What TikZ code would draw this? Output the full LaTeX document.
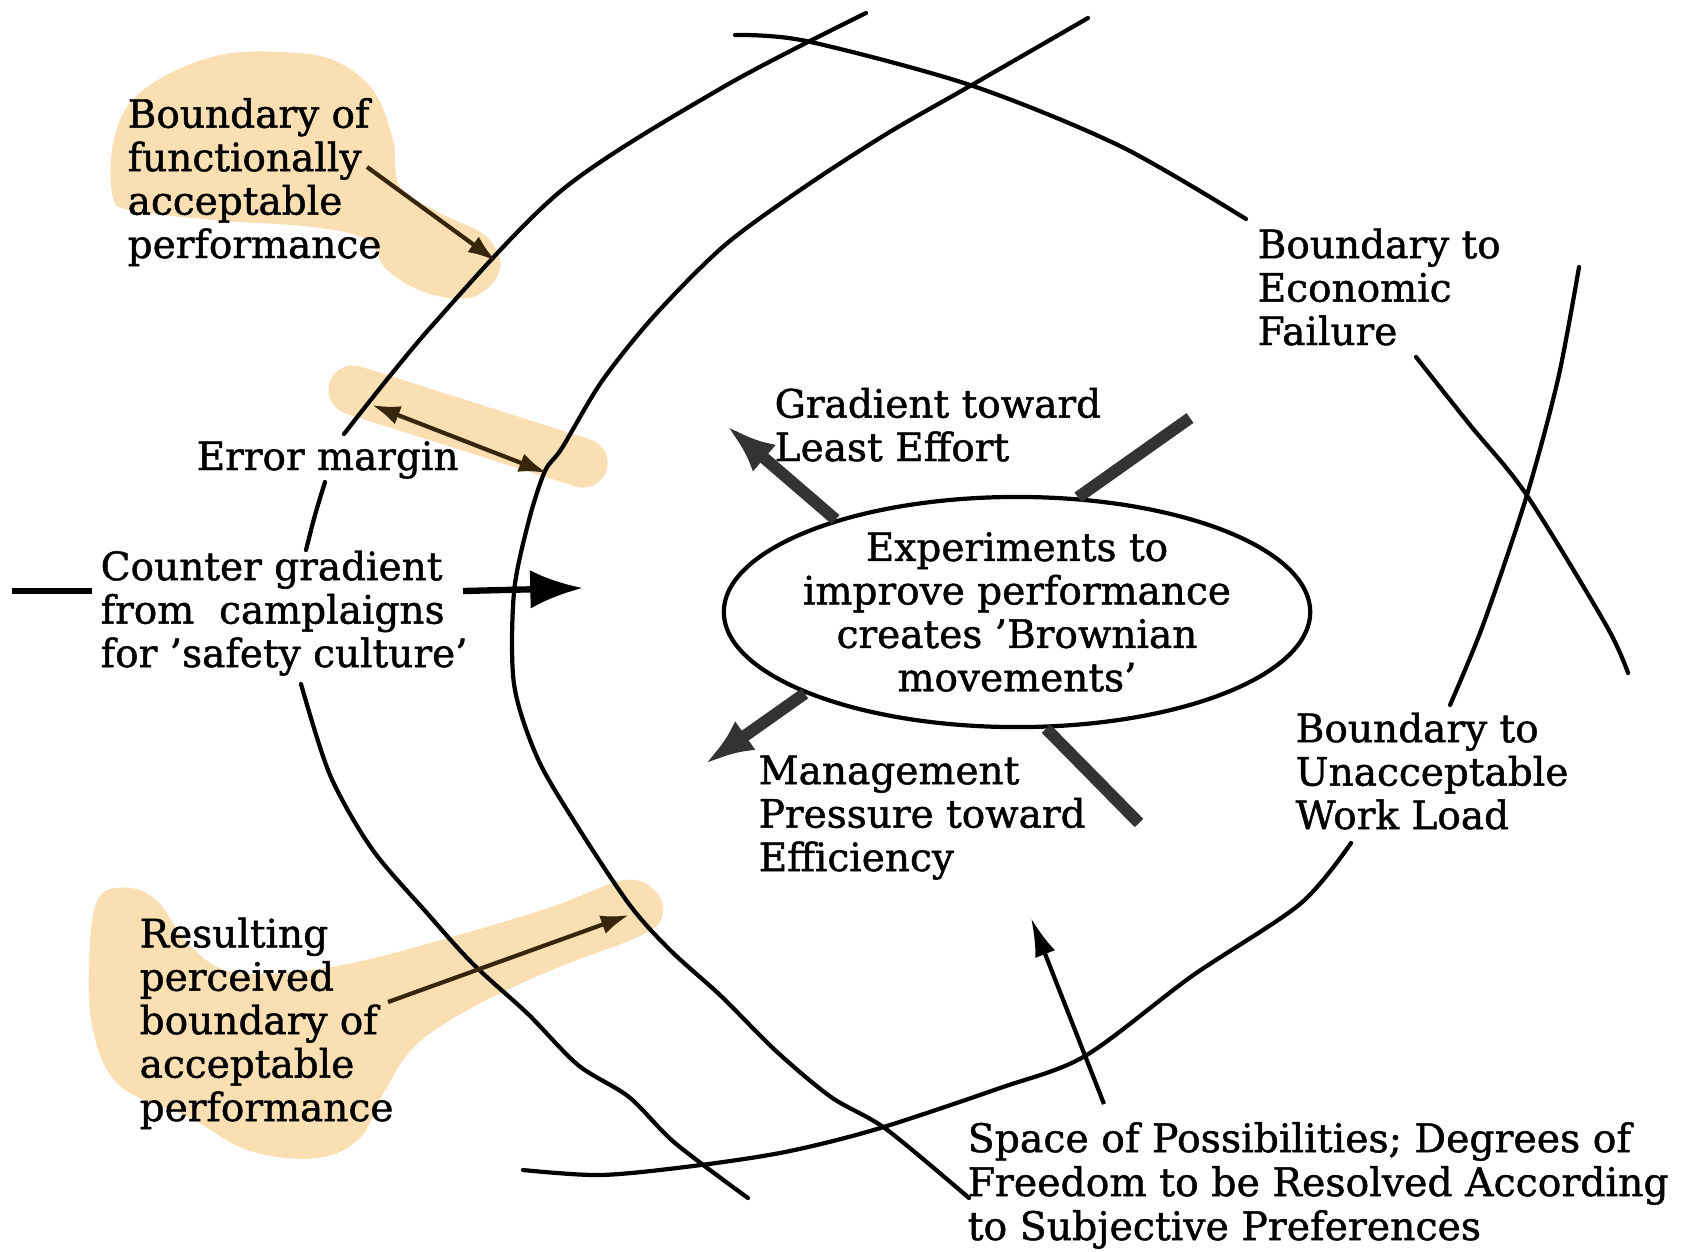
\documentclass[tikz,border=0pt]{standalone}
\usepackage{fontspec}
\setmainfont{DejaVu Serif}[FakeBold=1.2]
\usetikzlibrary{arrows.meta,shapes.geometric}
\definecolor{hl}{RGB}{249,223,178}
\definecolor{ink}{RGB}{55,38,12}
\newcommand\lblfont{\fontsize{11.1pt}{12.35pt}\selectfont}
\begin{document}
\begin{tikzpicture}[x=0.01cm,y=-0.01cm,
  bnd/.style={line width=1.2pt, line cap=round, line join=round},
  lbl/.style={anchor=base west, align=left, inner sep=0pt, font=\lblfont},
  thinarrow/.style={ink, line width=1.2pt, -{Latex[length=8pt,width=5.5pt]}},
  fatline/.style={black!80, line width=3.4pt},
  fatarrow/.style={fatline, -{Latex[length=14pt,width=10pt]}},
  blob/.style={fill=hl, draw=none}
]
\useasboundingbox[fill=white] (0,0) rectangle (1686,1251);

% highlights
\fill[blob] plot[smooth cycle, tension=0.6] coordinates {(112,150) (127,107) (163,77) (220,55) (280,52) (333,60) (373,90) (393,140) (400,187) (440,213) (487,237) (500,270) (473,297) (427,293) (387,270) (367,240) (313,227) (213,220) (130,210) (113,197)};
\draw[hl, line width=14pt, line cap=round] (353,390) -- (583,463);
\fill[blob] plot[smooth cycle, tension=0.6] coordinates {(100,896) (131,888) (159,903) (190,946) (238,973) (337,966) (455,936) (554,906) (625,880) (657,893) (661,920) (633,939) (554,969) (475,1006) (416,1045) (384,1092) (360,1138) (317,1158) (250,1151) (190,1118) (119,1085) (92,1025) (90,943)};

% boundary curves
\draw[bnd] plot[smooth] coordinates {(866,13) (725,86) (562,190) (430,328) (344,434)};
\draw[bnd] plot[smooth] coordinates {(325,482) (315,515) (306,550)};
\draw[bnd] plot[smooth] coordinates {(301,684) (330,775) (372,849) (427,913) (473,964) (528,1014) (578,1065) (629,1097) (675,1143) (748,1198)};
\draw[bnd] plot[smooth] coordinates {(1088,18) (970,86) (888,133) (806,186) (725,245) (655,315) (602,381) (562,448) (545,471) (529,520) (514,592) (514,684) (537,757) (574,821) (629,904) (670,950) (721,996) (776,1051) (831,1097) (886,1129) (969,1198)};
\draw[bnd] plot[smooth] coordinates {(735,35) (806,41) (970,85) (1120,146) (1246,219)};
\draw[bnd] plot[smooth] coordinates {(1579,267) (1558,379) (1526,498) (1483,625) (1450,705)};
\draw[bnd] plot[smooth] coordinates {(1351,843) (1300,904) (1192,976) (1085,1056) (1000,1088) (877,1129) (785,1152) (693,1166) (601,1175) (523,1170)};
\draw[bnd] plot[smooth] coordinates {(1416,357) (1470,425) (1526,494) (1606,625) (1628,673)};

% central ellipse
\node[draw, ellipse, line width=1.2pt, minimum width=5.86cm, minimum height=2.30cm, inner xsep=-0.07cm, inner ysep=0pt, align=center, font=\lblfont] (ell) at (1017,612)
  {Experiments to\\improve performance\\creates 'Brownian\\movements'};

% labels (anchored at the baseline of their last line)
\node[lbl] (tfunc) at (127,258) {Boundary of\\functionally\\acceptable\\performance};
\node[lbl] (terr) at (196,470) {Error margin};
\node[lbl] (tcount) at (100,667) {Counter gradient\\from\ \ camplaigns\\for 'safety culture'};
\node[lbl] (tleast) at (774,461) {Gradient toward\\Least Effort};
\node[lbl] (tecon) at (1257,345) {Boundary to\\Economic\\Failure};
\node[lbl] (tmgmt) at (758,871) {Management\\Pressure toward\\Efficiency};
\node[lbl] (twork) at (1295,829) {Boundary to\\Unacceptable\\Work Load};
\node[lbl, font=\fontsize{11.2pt}{12.5pt}\selectfont] (tspace) at (967,1240) {Space of Possibilities; Degrees of\\Freedom to be Resolved According\\to Subjective Preferences};
\node[lbl] (tres) at (139,1121) {Resulting\\perceived\\boundary of\\acceptable\\performance};

% connector end points
\coordinate (funcS) at (367,167);
\coordinate (funcT) at (496,261);
\coordinate (errL) at (372,405);
\coordinate (errR) at (547,473);
\coordinate (resS) at (388,1002);
\coordinate (resT) at (629,915);
\coordinate (spS) at (1104,1104);
\coordinate (spT) at (1031,918);
\coordinate (cgL1) at (12,591);
\coordinate (cgL2) at (92,591);
\coordinate (cgR1) at (463,591);
\coordinate (cgR2) at (583,588);
\coordinate (nwT) at (727,426);
\coordinate (neT) at (1190,418);
\coordinate (swT) at (705,764);
\coordinate (seT) at (1139,823);

% connectors
\draw[thinarrow] (funcS) -- (funcT);
\draw[ink, line width=1.2pt, {Latex[length=8pt,width=5.5pt]}-{Latex[length=8pt,width=5.5pt]}] (errL) -- (errR);
\draw[thinarrow] (resS) -- (resT);
\draw[line width=1.2pt, -{Latex[length=11pt,width=6pt]}] (spS) -- (spT);
\draw[line width=1.8pt] (cgL1) -- (cgL2);
\draw[line width=1.8pt, -{Latex[length=15pt,width=11pt]}] (cgR1) -- (cgR2);
\draw[fatarrow] (ell.153) -- (nwT);
\draw[fatline] (ell.62) -- (neT);
\draw[fatarrow] (ell.201) -- (swT);
\draw[fatline] (ell.284) -- (seT);
\end{tikzpicture}
\end{document}
